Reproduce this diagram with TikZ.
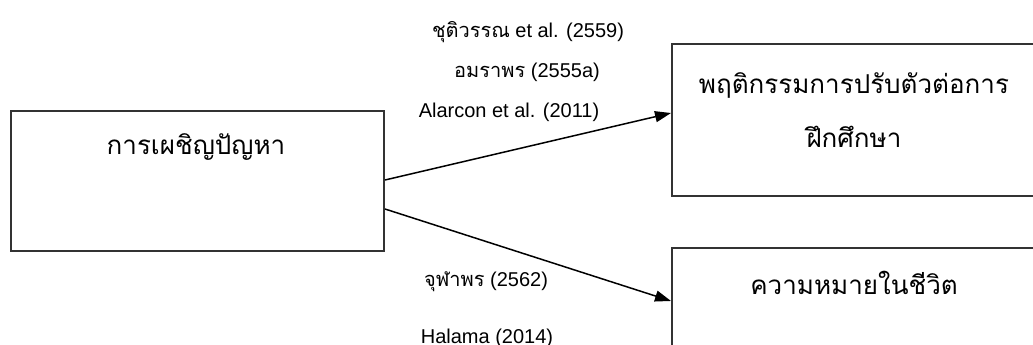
\documentclass[tikz,border=0pt]{standalone}
\usepackage{fontspec}
\setmainfont{Liberation Sans}
\newfontfamily\thaifont[Script=Thai]{Loma}
\usetikzlibrary{arrows.meta}
\tikzset{box/.style={draw=black!80,line width=2pt,rectangle,anchor=north west}}
\tikzset{boxtext/.style={font=\thaifont\fontsize{26}{54}\selectfont,align=center}}
\tikzset{ref/.style={font=\fontsize{20}{24}\selectfont}}
\tikzset{link/.style={line width=1.5pt,-{Triangle[length=16pt,width=11pt]}}}

\begin{document}
\begin{tikzpicture}[x=1pt,y=-1pt]
    \useasboundingbox (0,0) rectangle (1033,345);
    \clip (0,0) rectangle (1033,345);

    \node[box, minimum width=373pt, minimum height=140pt] (cope) at (10,110) {};
    \node[boxtext] (copetext) at (196,147) {การเผชิญปัญหา};
    \node[box, minimum width=380pt, minimum height=152pt] (adapt) at (671,43) {};
    \node[boxtext] (adapttext) at (854,110) {พฤติกรรมการปรับตัวต่อการ\\ฝึกศึกษา};
    \node[box, minimum width=380pt, minimum height=150pt] (meaning) at (671,247) {};
    \node[boxtext] (meaningtext) at (854,283) {ความหมายในชีวิต};

    \node[ref] (chutiwan) at (528,32) {{\thaifont ชุติวรรณ} et al. (2559)};
    \node[ref] (amaraporn) at (527,72) {{\thaifont อมราพร} (2555a)};
    \node[ref] (alarcon) at (509,112) {Alarcon et al. (2011)};
    \node[ref] (chulaporn) at (486,282) {{\thaifont จุฬาพร} (2562)};
    \node[ref] (halama) at (487,338) {Halama (2014)};

    \draw[link] ([yshift=1pt]cope.east) to ([yshift=7pt]adapt.west);
    \draw[link] ([yshift=-28pt]cope.east) to ([yshift=22pt]meaning.west);
\end{tikzpicture}
\end{document}
